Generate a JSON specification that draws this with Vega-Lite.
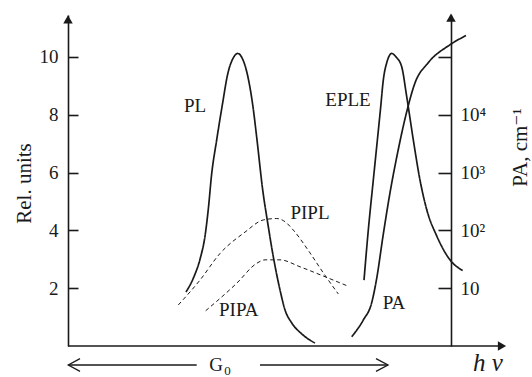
{
  "$schema": "https://vega.github.io/schema/vega-lite/v6.json",
  "width": 383,
  "height": 331,
  "autosize": {"type": "none"},
  "padding": {"left": 68, "top": 15, "right": 81, "bottom": 31},
  "background": "white",
  "config": {
    "view": {"stroke": null},
    "font": "Liberation Serif, Times New Roman, DejaVu Serif, serif",
    "text": {"font": "Liberation Serif, Times New Roman, DejaVu Serif, serif"},
    "axis": {"grid": false, "domainColor": "#1a1a1a", "tickColor": "#1a1a1a", "labelColor": "#1a1a1a", "titleColor": "#1a1a1a", "labelFont": "Liberation Serif, Times New Roman, DejaVu Serif, serif", "titleFont": "Liberation Serif, Times New Roman, DejaVu Serif, serif", "titleFontWeight": "normal", "domainWidth": 1.6, "tickWidth": 1.6}
  },
  "datasets": {
    "curves": [
      {"s": "PL", "st": "solid", "x": 118, "y": 1.87},
      {"s": "PL", "st": "solid", "x": 126, "y": 2.4},
      {"s": "PL", "st": "solid", "x": 132, "y": 3.0},
      {"s": "PL", "st": "solid", "x": 137, "y": 3.8},
      {"s": "PL", "st": "solid", "x": 140.5, "y": 4.8},
      {"s": "PL", "st": "solid", "x": 143.5, "y": 5.9},
      {"s": "PL", "st": "solid", "x": 148.7, "y": 7.13},
      {"s": "PL", "st": "solid", "x": 154, "y": 8.27},
      {"s": "PL", "st": "solid", "x": 160, "y": 9.45},
      {"s": "PL", "st": "solid", "x": 165, "y": 9.95},
      {"s": "PL", "st": "solid", "x": 169.7, "y": 10.12},
      {"s": "PL", "st": "solid", "x": 174, "y": 9.97},
      {"s": "PL", "st": "solid", "x": 179, "y": 9.45},
      {"s": "PL", "st": "solid", "x": 185, "y": 8.27},
      {"s": "PL", "st": "solid", "x": 189, "y": 7.13},
      {"s": "PL", "st": "solid", "x": 194.7, "y": 5.4},
      {"s": "PL", "st": "solid", "x": 199.7, "y": 4.26},
      {"s": "PL", "st": "solid", "x": 205.3, "y": 3.09},
      {"s": "PL", "st": "solid", "x": 212, "y": 1.94},
      {"s": "PL", "st": "solid", "x": 217, "y": 1.25},
      {"s": "PL", "st": "solid", "x": 223.7, "y": 0.8},
      {"s": "PL", "st": "solid", "x": 233.7, "y": 0.42},
      {"s": "PL", "st": "solid", "x": 247, "y": 0.1},
      {"s": "PIPL", "st": "dashed", "x": 110.3, "y": 1.42},
      {"s": "PIPL", "st": "dashed", "x": 132, "y": 2.28},
      {"s": "PIPL", "st": "dashed", "x": 152, "y": 3.2},
      {"s": "PIPL", "st": "dashed", "x": 177, "y": 3.94},
      {"s": "PIPL", "st": "dashed", "x": 195.3, "y": 4.36},
      {"s": "PIPL", "st": "dashed", "x": 208.7, "y": 4.41},
      {"s": "PIPL", "st": "dashed", "x": 217, "y": 4.3},
      {"s": "PIPL", "st": "dashed", "x": 225.3, "y": 4.01},
      {"s": "PIPL", "st": "dashed", "x": 242, "y": 3.22},
      {"s": "PIPL", "st": "dashed", "x": 255.3, "y": 2.53},
      {"s": "PIPL", "st": "dashed", "x": 270.3, "y": 1.8},
      {"s": "PIPA", "st": "dashed", "x": 137.7, "y": 1.22},
      {"s": "PIPA", "st": "dashed", "x": 168.7, "y": 2.17},
      {"s": "PIPA", "st": "dashed", "x": 188.7, "y": 2.86},
      {"s": "PIPA", "st": "dashed", "x": 197, "y": 2.98},
      {"s": "PIPA", "st": "dashed", "x": 212, "y": 2.98},
      {"s": "PIPA", "st": "dashed", "x": 232, "y": 2.74},
      {"s": "PIPA", "st": "dashed", "x": 255.3, "y": 2.42},
      {"s": "PIPA", "st": "dashed", "x": 279.3, "y": 2.08},
      {"s": "EPLE", "st": "solid", "x": 296, "y": 2.28},
      {"s": "EPLE", "st": "solid", "x": 300.3, "y": 4.01},
      {"s": "EPLE", "st": "solid", "x": 305.3, "y": 5.74},
      {"s": "EPLE", "st": "solid", "x": 309, "y": 7.0},
      {"s": "EPLE", "st": "solid", "x": 312.5, "y": 8.2},
      {"s": "EPLE", "st": "solid", "x": 315.3, "y": 9.2},
      {"s": "EPLE", "st": "solid", "x": 319, "y": 9.83},
      {"s": "EPLE", "st": "solid", "x": 323.7, "y": 10.12},
      {"s": "EPLE", "st": "solid", "x": 328, "y": 10.0},
      {"s": "EPLE", "st": "solid", "x": 333.7, "y": 9.66},
      {"s": "EPLE", "st": "solid", "x": 338.7, "y": 8.63},
      {"s": "EPLE", "st": "solid", "x": 345.3, "y": 7.13},
      {"s": "EPLE", "st": "solid", "x": 352, "y": 5.74},
      {"s": "EPLE", "st": "solid", "x": 358.7, "y": 4.72},
      {"s": "EPLE", "st": "solid", "x": 368.7, "y": 3.81},
      {"s": "EPLE", "st": "solid", "x": 382, "y": 2.98},
      {"s": "EPLE", "st": "solid", "x": 394.7, "y": 2.61},
      {"s": "PA", "st": "solid", "x": 283.7, "y": 0.32},
      {"s": "PA", "st": "solid", "x": 295.3, "y": 0.9},
      {"s": "PA", "st": "solid", "x": 303.7, "y": 1.5},
      {"s": "PA", "st": "solid", "x": 309, "y": 2.4},
      {"s": "PA", "st": "solid", "x": 315, "y": 3.8},
      {"s": "PA", "st": "solid", "x": 322, "y": 5.3},
      {"s": "PA", "st": "solid", "x": 330, "y": 6.75},
      {"s": "PA", "st": "solid", "x": 338.7, "y": 8.1},
      {"s": "PA", "st": "solid", "x": 347, "y": 9.1},
      {"s": "PA", "st": "solid", "x": 360, "y": 9.79},
      {"s": "PA", "st": "solid", "x": 382, "y": 10.42},
      {"s": "PA", "st": "solid", "x": 398, "y": 10.74}
    ],
    "labels": [
      {"t": "PL", "x": 127, "y": 8.3},
      {"t": "EPLE", "x": 280, "y": 8.51},
      {"t": "PIPL", "x": 242, "y": 4.6},
      {"t": "PIPA", "x": 170.7, "y": 1.25},
      {"t": "PA", "x": 326, "y": 1.5},
      {"t": "G", "x": 148, "y": -0.67}
    ],
    "sub": [
      {"t": "0", "x": 159.5, "y": -0.86}
    ],
    "g0": [
      {"seg": "a", "o": 1, "x": 0.3, "y": -0.657},
      {"seg": "a", "o": 2, "x": 128.7, "y": -0.657},
      {"seg": "b", "o": 1, "x": 192, "y": -0.657},
      {"seg": "b", "o": 2, "x": 320, "y": -0.657},
      {"seg": "c", "o": 1, "x": 12, "y": -0.437},
      {"seg": "c", "o": 2, "x": 0.3, "y": -0.657},
      {"seg": "c", "o": 3, "x": 12, "y": -0.877},
      {"seg": "d", "o": 1, "x": 308, "y": -0.437},
      {"seg": "d", "o": 2, "x": 320, "y": -0.657},
      {"seg": "d", "o": 3, "x": 308, "y": -0.877}
    ],
    "xaxis": [
      {"x": 0, "y": 0},
      {"x": 432, "y": 0}
    ],
    "arrows": [
      {"a": "left", "x": 0, "y": 11.3, "shape": "triangle-up"},
      {"a": "x", "x": 434, "y": 0, "shape": "triangle-right"}
    ],
    "rightarrow": [
      {"a": "right", "x": 383, "y": 11.36}
    ],
    "hv": [
      {"t": "h ν", "x": 420, "y": -0.6}
    ]
  },
  "resolve": {"scale": {"y": "independent"}},
  "layer": [
    {
      "data": {"name": "xaxis"},
      "mark": {"type": "line", "color": "#1a1a1a", "strokeWidth": 1.6},
      "encoding": {
        "x": {"field": "x", "type": "quantitative", "scale": {"domain": [0, 383]}, "axis": null},
        "y": {"field": "y", "type": "quantitative", "scale": {"domain": [0, 11.45]},
          "axis": {"orient": "left", "values": [2, 4, 6, 8, 10], "tickSize": -10, "labelPadding": 20, "labelFontSize": 19, "title": "Rel. units", "titleFontSize": 21, "titleAngle": -90, "titleX": -44, "titleY": 168, "titleAlign": "center", "titleBaseline": "middle"}}
      }
    },
    {
      "data": {"name": "rightarrow"},
      "mark": {"type": "point", "shape": "triangle-up", "filled": true, "color": "#1a1a1a", "size": 90, "opacity": 1},
      "encoding": {
        "x": {"field": "x", "type": "quantitative", "scale": {"domain": [0, 383]}, "axis": null},
        "y": {"field": "y", "type": "quantitative", "scale": {"domain": [0, 11.45]},
          "axis": {"orient": "right", "values": [2, 4, 6, 8, 10], "tickSize": -13, "labelPadding": 22, "labelFontSize": 19, "labelAlign": "left",
            "labelExpr": "datum.value == 2 ? '10' : datum.value == 4 ? '10²' : datum.value == 6 ? '10³' : datum.value == 8 ? '10⁴' : ''",
            "title": "PA, cm⁻¹", "titleFontSize": 21, "titleAngle": -90, "titleX": 69, "titleY": 132, "titleAlign": "center", "titleBaseline": "middle"}}
      }
    },
    {
      "data": {"name": "arrows"},
      "mark": {"type": "point", "filled": true, "color": "#1a1a1a", "size": 90, "opacity": 1},
      "encoding": {
        "x": {"field": "x", "type": "quantitative", "scale": {"domain": [0, 383]}, "axis": null},
        "y": {"field": "y", "type": "quantitative", "scale": {"domain": [0, 11.45]}, "axis": null},
        "shape": {"field": "shape", "type": "nominal", "scale": {"domain": ["triangle-up", "triangle-right"], "range": ["triangle-up", "triangle-right"]}, "legend": null}
      }
    },
    {
      "data": {"name": "curves"},
      "mark": {"type": "line", "color": "#1a1a1a", "interpolate": "monotone"},
      "encoding": {
        "x": {"field": "x", "type": "quantitative", "scale": {"domain": [0, 383]}, "axis": null},
        "y": {"field": "y", "type": "quantitative", "scale": {"domain": [0, 11.45]}, "axis": null},
        "detail": {"field": "s", "type": "nominal"},
        "strokeDash": {"field": "st", "type": "nominal", "scale": {"domain": ["solid", "dashed"], "range": [[1, 0], [4, 3]]}, "legend": null},
        "strokeWidth": {"field": "st", "type": "nominal", "scale": {"domain": ["solid", "dashed"], "range": [1.7, 1]}, "legend": null}
      }
    },
    {
      "data": {"name": "g0"},
      "mark": {"type": "line", "color": "#1a1a1a", "strokeWidth": 1.3},
      "encoding": {
        "x": {"field": "x", "type": "quantitative", "scale": {"domain": [0, 383]}, "axis": null},
        "y": {"field": "y", "type": "quantitative", "scale": {"domain": [0, 11.45]}, "axis": null},
        "detail": {"field": "seg", "type": "nominal"},
        "order": {"field": "o", "type": "quantitative"}
      }
    },
    {
      "data": {"name": "labels"},
      "mark": {"type": "text", "color": "#1a1a1a", "fontSize": 19, "align": "center", "baseline": "middle"},
      "encoding": {
        "x": {"field": "x", "type": "quantitative", "scale": {"domain": [0, 383]}, "axis": null},
        "y": {"field": "y", "type": "quantitative", "scale": {"domain": [0, 11.45]}, "axis": null},
        "text": {"field": "t", "type": "nominal"}
      }
    },
    {
      "data": {"name": "sub"},
      "mark": {"type": "text", "color": "#1a1a1a", "fontSize": 13, "align": "center", "baseline": "middle"},
      "encoding": {
        "x": {"field": "x", "type": "quantitative", "scale": {"domain": [0, 383]}, "axis": null},
        "y": {"field": "y", "type": "quantitative", "scale": {"domain": [0, 11.45]}, "axis": null},
        "text": {"field": "t", "type": "nominal"}
      }
    },
    {
      "data": {"name": "hv"},
      "mark": {"type": "text", "color": "#1a1a1a", "fontSize": 25, "fontStyle": "italic", "align": "center", "baseline": "middle"},
      "encoding": {
        "x": {"field": "x", "type": "quantitative", "scale": {"domain": [0, 383]}, "axis": null},
        "y": {"field": "y", "type": "quantitative", "scale": {"domain": [0, 11.45]}, "axis": null},
        "text": {"field": "t", "type": "nominal"}
      }
    }
  ]
}
